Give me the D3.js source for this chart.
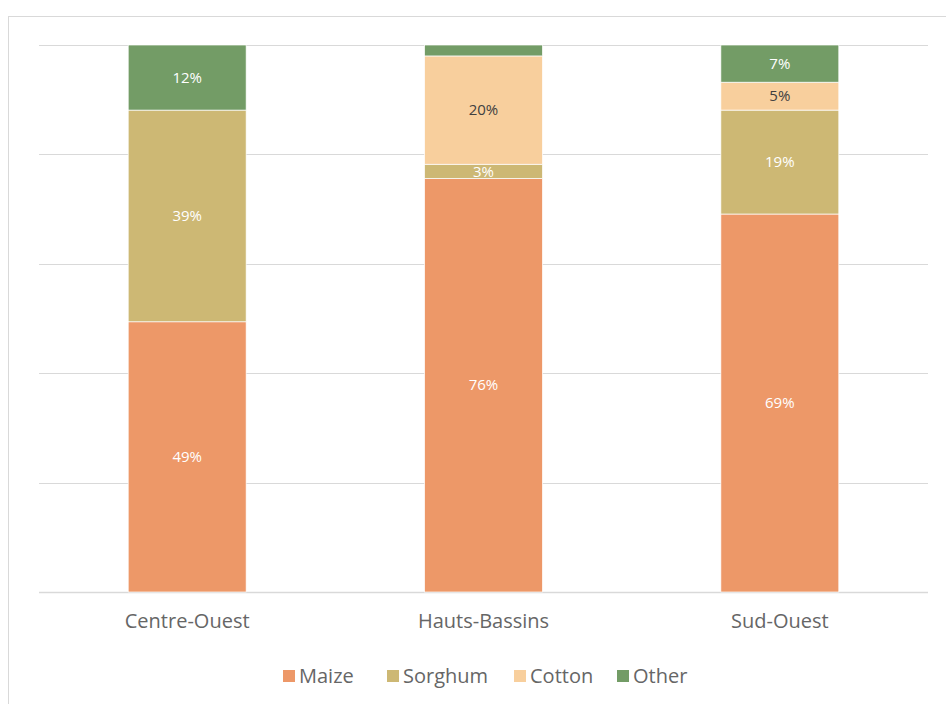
<!DOCTYPE html>
<html><head><meta charset="utf-8">
<script src="https://cdn.jsdelivr.net/npm/d3@7"></script>
<style>body{margin:0;background:#fff;}</style>
</head><body>
<svg id="c" width="946" height="704"></svg>
<script>
const regions = ["Centre-Ouest", "Hauts-Bassins", "Sud-Ouest"];
const seriesNames = ["Maize", "Sorghum", "Cotton", "Other"];
const maize = [49.4, 75.6, 69.1];
const sorghum = [38.7, 2.6, 19.0];
const cotton = [0, 19.8, 5.1];
const other = [11.9, 2.0, 6.8];
const yTicks = [0, 20, 40, 60, 80, 100];
const colors = ["#ED9868", "#CDB874", "#F8CF9D", "#739C66"];
const labelColors = ["#ffffff", "#ffffff", "#404040", "#ffffff"];

const font = "'Open Sans', sans-serif";
const svg = d3.select("#c");
svg.append("rect").attr("x", 8.5).attr("y", 16.5).attr("width", 960).attr("height", 720)
  .attr("fill", "none").attr("stroke", "#D9D9D9");

const rows = regions.map((r, i) => ({region: r, Maize: maize[i], Sorghum: sorghum[i], Cotton: cotton[i], Other: other[i]}));
const stacked = d3.stack().keys(seriesNames)(rows);

const x = d3.scaleBand().domain(regions).range([39, 928]).paddingInner(0.602).paddingOuter(0.301);
const y = d3.scaleLinear().domain([0, 100]).range([592, 45]);

svg.append("g").selectAll("line").data(yTicks).join("line")
  .attr("x1", 39).attr("x2", 928)
  .attr("y1", d => Math.round(y(d)) + 0.5).attr("y2", d => Math.round(y(d)) + 0.5)
  .attr("stroke", "#D9D9D9").attr("stroke-width", d => d === 0 ? 1.5 : 1.2);

const g = svg.append("g");
stacked.forEach((s, si) => {
  g.selectAll(null).data(s).join("rect")
    .attr("x", (d, i) => x(regions[i]))
    .attr("width", x.bandwidth())
    .attr("y", d => y(d[1]))
    .attr("height", d => Math.max(0, y(d[0]) - y(d[1])))
    .attr("fill", colors[si])
    .attr("stroke", "#fff").attr("stroke-width", 0.7)
    .attr("display", d => d[1] - d[0] > 0 ? null : "none");
  g.selectAll(null).data(s).join("text")
    .filter(d => d[1] - d[0] >= 2.5)
    .attr("x", d => x(d.data.region) + x.bandwidth() / 2)
    .attr("y", d => (y(d[0]) + y(d[1])) / 2)
    .attr("dy", "0.35em")
    .attr("text-anchor", "middle")
    .attr("fill", labelColors[si])
    .style("font-family", font).style("font-size", "15px")
    .text(d => Math.round(d[1] - d[0]) + "%");
});

const xAxis = svg.append("g").attr("transform", "translate(0,592)")
  .call(d3.axisBottom(x).tickSize(0).tickPadding(22));
xAxis.select(".domain").remove();
xAxis.selectAll("text").attr("fill", "#666666").style("font-family", font).style("font-size", "20px");

const legendX = [283, 387, 514, 617];
const lg = svg.append("g");
seriesNames.forEach((n, i) => {
  lg.append("rect").attr("x", legendX[i]).attr("y", 670).attr("width", 12).attr("height", 12).attr("fill", colors[i]);
  lg.append("text").attr("x", legendX[i] + 16).attr("y", 676).attr("dy", "0.35em")
    .attr("fill", "#666666").style("font-family", font).style("font-size", "20px").text(n);
});
</script>
</body></html>
